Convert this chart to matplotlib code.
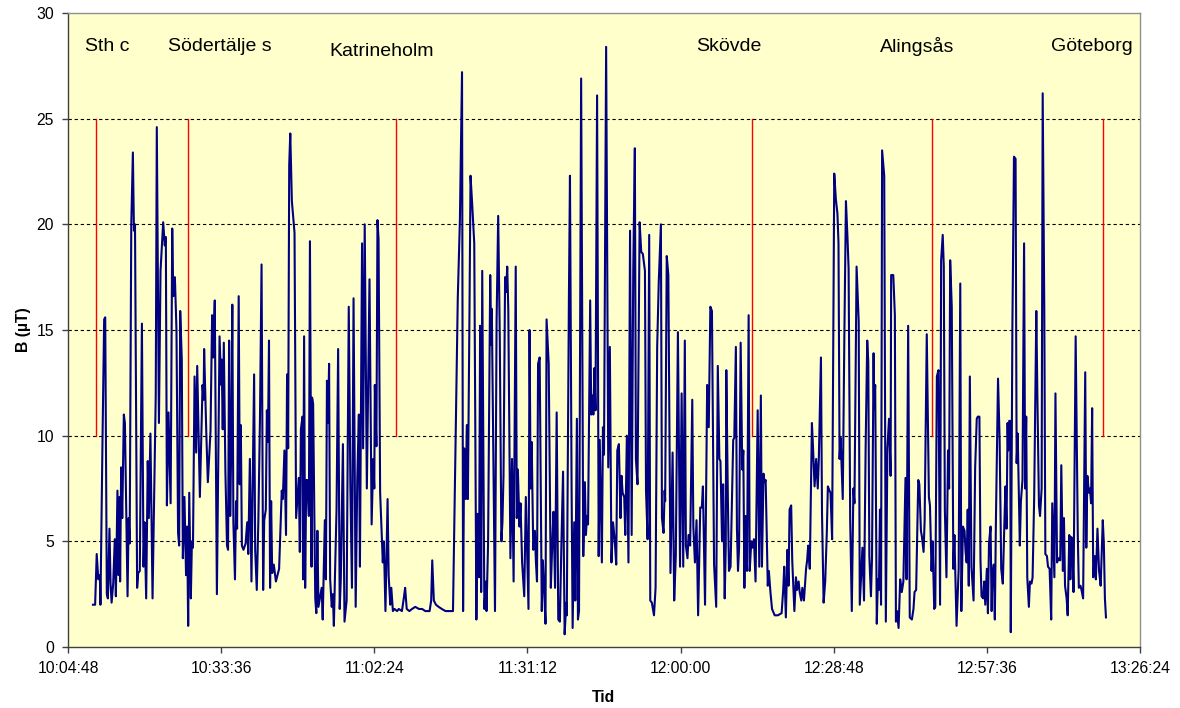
import numpy as np
import matplotlib
matplotlib.use("Agg")
import matplotlib.pyplot as plt
from datetime import datetime, timedelta
import matplotlib.dates as mdates

plt.rcParams['font.family'] = ['Liberation Sans', 'DejaVu Sans']

# ---- data: minutes after 10:04:48, magnetic field B in microtesla ----
START = "10:04:48"

tA = [4.7, 5.1, 5.4, 5.7, 6.0, 6.1, 6.5, 6.8, 7.0, 7.3, 7.5, 7.8, 8.0, 8.2, 8.5, 8.8, 9.0, 9.3, 9.5, 9.7,
      9.8, 10.0, 10.2, 10.5, 10.7, 11.2, 11.4, 11.6, 11.9, 12.2, 12.4, 12.6, 13.0, 13.2, 13.5, 13.9, 14.2, 14.4, 14.7, 15.0,
      15.2, 15.5, 15.9, 16.5, 16.7, 17.1, 17.4, 17.9, 18.2, 18.4, 18.6, 18.9, 19.3, 19.6, 19.8, 20.1, 20.4, 20.7, 20.9, 21.1,
      21.4, 21.6, 21.9, 22.2, 22.4, 22.6, 22.8, 23.1, 23.3, 23.5, 23.8, 24.1, 24.3, 24.8, 25.3, 25.5, 25.6, 26.0, 26.3, 26.8,
      27.1, 27.3, 27.6, 28.0]
bA = [2.0, 2.0, 4.4, 3.2, 3.4, 2.0, 10.0, 15.5, 15.6, 2.5, 2.3, 5.6, 3.0, 2.1, 3.0, 5.1, 2.4, 7.4, 3.4, 7.1,
      3.1, 8.5, 6.1, 11.0, 10.6, 2.4, 6.1, 4.9, 20.0, 23.4, 19.7, 20.0, 2.8, 3.5, 3.6, 15.3, 3.8, 5.9, 2.3, 8.8,
      6.1, 10.1, 2.3, 11.9, 24.6, 10.6, 17.8, 20.1, 19.0, 19.4, 6.7, 11.1, 6.8, 19.8, 16.6, 17.5, 15.0, 5.4, 4.8, 15.9,
      13.6, 4.2, 7.1, 3.4, 5.7, 1.0, 7.3, 2.3, 5.0, 4.7, 12.8, 9.2, 13.3, 7.1, 12.4, 11.7, 14.1, 10.2, 7.8, 10.2,
      15.7, 13.7, 16.4, 2.5]

tB = [28.5, 28.8, 28.9, 29.1, 29.3, 29.6, 29.9, 30.1, 30.3, 30.5, 30.7, 30.9, 31.1, 31.4, 31.6, 31.8, 32.1, 32.3, 32.5, 32.7,
      33.0, 33.4, 33.7, 33.9, 34.2, 34.5, 35.0, 35.2, 35.5, 35.8, 36.1, 36.4, 36.7, 36.9, 37.2, 37.4, 37.6, 37.8, 38.0, 38.2,
      38.4, 38.7, 39.1, 39.3, 39.7, 40.2, 40.4, 40.7, 41.0, 41.2, 41.4, 41.6, 41.8, 42.1, 42.6, 42.9, 43.4, 43.6, 43.8, 44.1,
      44.2, 44.4, 44.6, 44.8, 45.0, 45.3, 45.5, 45.8, 45.9, 46.1, 46.5, 46.7, 46.9, 47.1, 47.5, 47.7, 47.9, 48.3, 48.5, 48.7,
      48.9, 49.1, 49.3, 49.6, 49.8, 50.0, 50.2, 50.5, 50.8, 51.1, 51.3, 51.7]
bB = [14.7, 12.4, 13.6, 10.3, 14.4, 8.3, 4.8, 4.6, 14.5, 6.2, 9.5, 16.2, 5.9, 3.2, 6.9, 5.6, 16.6, 7.7, 10.5, 4.8,
      4.6, 4.9, 5.9, 4.4, 8.9, 3.1, 12.9, 4.6, 2.7, 6.0, 10.8, 18.1, 2.7, 6.0, 6.5, 11.2, 9.7, 14.5, 2.8, 6.9,
      3.5, 3.9, 3.1, 3.3, 3.7, 7.4, 7.0, 9.3, 5.3, 12.9, 9.4, 22.8, 24.3, 21.1, 19.6, 6.1, 8.0, 4.5, 10.3, 10.9,
      3.2, 14.7, 2.8, 7.9, 7.9, 6.2, 19.2, 3.8, 11.8, 11.5, 2.3, 1.6, 5.5, 1.9, 2.5, 2.8, 1.3, 6.0, 3.2, 12.6,
      10.6, 13.4, 3.2, 1.9, 2.5, 1.0, 3.3, 6.5, 14.1, 1.8, 3.2, 9.6]

tC = [52.0, 52.4, 52.8, 53.1, 53.4, 53.7, 54.1, 54.4, 54.7, 54.9, 55.3, 55.5, 55.8, 56.2, 56.7, 57.1, 57.4, 57.6, 57.7, 58.0,
      58.2, 58.4, 58.7, 59.2, 59.4, 59.7, 60.1, 60.3, 60.6, 60.8, 61.1, 61.4, 61.9, 62.2, 62.8, 63.2, 63.4, 63.7, 64.2, 64.7,
      65.3, 66.0, 66.6, 67.2, 68.0, 68.3, 68.5, 68.8, 69.2, 69.7, 70.3, 71.0, 71.6, 72.4, 73.3, 73.7, 74.1, 74.3, 74.5, 74.8,
      75.0, 75.2, 75.5, 75.7]
bC = [1.2, 2.2, 16.1, 7.7, 2.8, 16.5, 1.9, 7.9, 11.0, 3.8, 19.1, 9.4, 20.0, 7.5, 17.4, 5.8, 8.9, 7.5, 12.4, 9.5,
      20.2, 19.3, 7.3, 4.0, 5.0, 1.7, 7.0, 3.4, 2.0, 2.8, 1.7, 1.8, 1.7, 1.8, 1.7, 2.4, 2.8, 1.8, 1.7, 1.8,
      1.9, 1.8, 1.8, 1.7, 1.7, 2.2, 4.1, 2.2, 2.0, 1.9, 1.8, 1.7, 1.7, 1.7, 16.5, 20.2, 27.2, 1.7, 9.4, 7.0,
      10.5, 7.0, 15.8, 22.3]

tD = [76.0, 76.4, 76.8, 77.0, 77.3, 77.5, 77.7, 77.9, 78.3, 78.6, 78.7, 79.0, 79.4, 79.6, 79.7, 80.3, 80.6, 80.9, 81.2, 81.5,
      81.7, 81.9, 82.2, 82.4, 82.6, 82.8, 83.2, 83.5, 83.8, 84.2, 84.4, 84.6, 84.9, 85.1, 85.4, 85.8, 86.1, 86.6, 86.8, 87.0,
      87.2, 87.5, 87.8, 88.0, 88.2, 88.4, 88.7, 89.1, 89.3, 89.6, 89.8, 90.0, 90.4, 90.8, 91.1, 91.3, 91.6, 91.9, 92.2, 92.5,
      92.8, 93.1, 93.4, 93.7, 93.8, 94.2, 94.4, 94.7, 94.9, 95.2, 95.4, 95.7, 95.9, 96.1, 96.5, 96.9, 97.2, 97.4, 97.6, 97.8,
      98.0, 98.2, 98.4, 98.6, 98.8, 99.0, 99.2, 99.5, 99.8]
bD = [21.0, 19.1, 1.3, 6.3, 3.3, 15.2, 2.6, 17.8, 1.8, 3.1, 1.7, 4.9, 17.6, 14.3, 16.0, 1.7, 15.4, 20.4, 14.7, 5.0,
      5.9, 8.1, 17.5, 16.8, 18.0, 16.0, 4.2, 8.9, 3.1, 18.0, 6.1, 8.4, 5.7, 6.8, 4.0, 2.4, 7.1, 1.8, 15.0, 7.5,
      9.7, 4.6, 5.5, 4.0, 3.1, 13.4, 13.7, 1.7, 4.1, 2.4, 1.1, 15.5, 13.4, 2.8, 5.1, 6.4, 2.8, 11.1, 1.3, 1.2,
      5.0, 8.3, 0.6, 2.1, 1.5, 16.5, 22.3, 7.7, 0.9, 5.9, 2.2, 10.8, 1.3, 1.7, 26.9, 4.3, 7.8, 5.3, 6.2, 5.8,
      11.0, 16.4, 11.0, 11.9, 11.0, 13.2, 11.2, 26.1, 4.3]

tE = [100.0, 100.4, 100.6, 100.8, 101.2, 101.6, 101.9, 102.2, 102.5, 102.8, 103.1, 103.3, 103.6, 103.9, 104.1, 104.3, 104.6, 104.8, 105.1, 105.4,
      105.7, 106.0, 106.3, 106.6, 106.8, 107.1, 107.5, 107.8, 108.1, 108.5, 108.7, 109.0, 109.3, 109.5, 109.8, 110.2, 110.5, 110.8, 111.1, 111.5,
      111.7, 112.0, 112.2, 112.3, 112.6, 112.9, 113.3, 113.7, 114.0, 114.3, 114.7, 115.1, 115.4, 115.7, 116.0, 116.2, 116.5, 116.7, 117.0, 117.4,
      117.6, 117.9, 118.2, 118.5, 118.9, 119.2, 119.4, 119.8, 120.2, 120.5, 120.8, 121.1, 121.5, 121.9, 122.2, 122.5, 122.7, 123.0, 123.2, 123.5,
      123.7]
bE = [9.8, 4.0, 10.4, 9.1, 28.4, 8.5, 14.2, 4.0, 5.9, 5.1, 3.9, 9.3, 9.6, 6.1, 8.1, 7.3, 7.1, 5.3, 10.0, 4.0,
      19.7, 5.3, 17.8, 23.6, 8.9, 7.7, 20.1, 18.7, 18.6, 17.8, 7.4, 5.1, 19.5, 2.2, 2.1, 1.5, 2.8, 14.2, 17.3, 20.0,
      6.1, 5.4, 7.4, 6.9, 18.5, 17.6, 3.5, 9.2, 2.2, 4.3, 14.9, 3.8, 12.0, 3.8, 14.5, 4.8, 4.2, 5.3, 4.8, 11.7,
      5.7, 4.0, 6.0, 1.5, 6.6, 6.6, 7.6, 2.0, 12.4, 10.4, 16.1, 15.9, 3.9, 1.9, 13.3, 8.9, 8.8, 5.0, 7.7, 2.3,
      4.8]

tF = [123.8, 124.1, 124.3, 124.6, 125.1, 125.3, 125.6, 125.8, 126.0, 126.2, 126.5, 126.8, 127.0, 127.2, 127.4, 127.7, 128.0, 128.2, 128.5, 128.7,
      129.0, 129.3, 129.7, 130.0, 130.3, 130.5, 130.8, 131.0, 131.2, 131.6, 131.8, 132.1, 132.4, 132.9, 133.5, 134.2, 134.5, 134.7, 135.0, 135.3,
      135.5, 135.7, 136.0, 136.2, 136.6, 136.9, 137.1, 137.4, 137.6, 137.9, 138.1, 138.4, 138.8, 139.0, 139.2, 139.5, 139.9, 140.1, 140.4, 140.7,
      141.0, 141.2, 141.6, 141.8, 142.1, 142.4, 142.7, 142.9, 143.2, 143.4, 143.7, 144.1, 144.4, 144.7, 144.9, 145.1, 145.3, 145.7, 146.0, 146.3,
      146.6, 146.8, 147.1, 147.4]
bF = [13.1, 6.9, 3.6, 3.8, 9.8, 9.9, 14.2, 5.6, 3.6, 4.7, 14.4, 8.4, 9.3, 2.8, 6.2, 3.6, 15.7, 3.6, 5.0, 4.7,
      5.1, 3.1, 11.2, 3.8, 11.9, 3.8, 8.2, 7.8, 7.9, 2.9, 3.6, 2.6, 1.8, 1.5, 1.5, 1.6, 2.7, 3.8, 1.4, 4.6,
      2.9, 6.5, 6.7, 4.1, 1.7, 3.3, 2.7, 3.1, 2.6, 2.2, 2.8, 2.2, 3.7, 4.1, 4.8, 3.7, 10.6, 9.5, 7.6, 8.9,
      7.5, 8.9, 13.7, 6.3, 2.1, 3.1, 5.4, 7.6, 7.4, 7.3, 5.1, 22.4, 21.2, 20.5, 19.1, 8.9, 9.9, 7.0, 14.7, 21.1,
      19.3, 17.9, 6.0, 1.7]

tG = [147.7, 147.9, 148.3, 148.7, 148.9, 149.2, 149.4, 149.7, 150.0, 150.3, 150.5, 150.7, 151.0, 151.2, 151.5, 151.6, 151.8, 152.1, 152.3, 152.5,
      152.7, 152.9, 153.1, 153.5, 153.8, 154.1, 154.4, 154.7, 154.8, 155.2, 155.5, 155.7, 155.9, 156.2, 156.5, 156.8, 157.1, 157.5, 157.7, 158.0,
      158.3, 158.7, 159.0, 159.2, 159.5, 159.9, 160.1, 160.4, 160.6, 160.9, 161.1, 161.5, 161.9, 162.1, 162.4, 162.6, 162.9, 163.1, 163.4, 163.7,
      164.0, 164.2, 164.5, 164.7, 164.9, 165.2, 165.5, 165.7, 165.9, 166.2, 166.5, 166.7, 167.1, 167.5, 167.8, 168.0, 168.3, 168.6, 168.8, 169.0,
      169.2, 169.4, 169.6, 169.9, 170.3, 170.6, 170.9]
bG = [7.5, 6.8, 18.0, 15.4, 2.0, 3.6, 4.7, 2.2, 9.4, 14.5, 13.5, 4.3, 2.4, 4.2, 13.9, 11.3, 12.4, 1.1, 3.2, 2.7,
      6.5, 2.0, 23.5, 22.3, 1.2, 9.4, 10.8, 8.1, 17.6, 17.6, 15.7, 1.2, 1.7, 0.9, 3.2, 2.6, 3.1, 8.0, 3.2, 15.2,
      1.4, 1.3, 1.8, 2.6, 2.7, 7.9, 7.7, 5.5, 5.2, 4.5, 6.0, 14.8, 7.1, 6.7, 3.6, 5.0, 1.8, 1.9, 12.8, 13.1,
      2.0, 18.3, 19.5, 18.0, 6.5, 3.3, 9.3, 7.5, 18.3, 16.1, 3.7, 5.3, 1.0, 3.7, 17.2, 1.7, 5.7, 5.5, 4.5, 4.0,
      6.5, 2.9, 12.8, 3.8, 2.2, 8.5, 10.8]

tH = [171.1, 171.4, 171.6, 171.8, 172.1, 172.3, 172.5, 172.8, 173.0, 173.2, 173.5, 173.7, 173.8, 174.1, 174.3, 174.5, 174.9, 175.2, 175.5, 175.8,
      176.1, 176.3, 176.5, 176.7, 176.8, 177.0, 177.2, 177.3, 177.6, 177.9, 178.2, 178.4, 178.6, 178.9, 179.0, 179.2, 179.5, 179.8, 180.0, 180.2,
      180.4, 180.7, 180.9, 181.2, 181.4, 181.7, 182.1, 182.3, 182.6, 182.8, 183.1, 183.3, 183.6, 183.8, 184.1, 184.3, 184.6, 184.9, 185.1, 185.5,
      185.7, 186.0, 186.3, 186.6, 186.8, 187.1, 187.3, 187.5, 187.8, 188.0, 188.3, 188.5, 188.7, 188.9, 189.1, 189.5, 189.9, 190.1, 190.4, 190.6,
      190.9, 191.3, 191.5, 191.7, 192.0, 192.2, 192.4, 192.6, 192.8, 193.1, 193.3, 193.6, 193.9, 194.2, 194.6, 194.8, 195.0, 195.2]
bH = [10.9, 10.9, 4.1, 2.4, 2.3, 3.1, 2.0, 3.7, 1.6, 4.9, 5.7, 1.7, 3.1, 3.9, 1.3, 5.9, 12.7, 9.8, 3.7, 3.0,
      5.9, 7.6, 5.6, 10.6, 9.3, 10.7, 10.7, 0.7, 15.1, 23.2, 23.1, 8.7, 10.1, 6.1, 4.8, 6.9, 7.9, 19.1, 7.5, 10.9,
      3.3, 1.9, 3.1, 3.0, 3.3, 7.1, 15.9, 11.9, 6.7, 6.2, 7.5, 26.2, 16.0, 4.4, 4.3, 3.8, 3.7, 1.3, 6.8, 3.3,
      12.0, 4.0, 4.2, 4.1, 8.6, 3.6, 6.1, 2.9, 2.3, 1.5, 5.3, 3.2, 5.2, 4.5, 2.6, 14.7, 5.3, 2.8, 2.9, 2.7,
      2.3, 13.0, 4.7, 8.1, 7.3, 7.5, 6.8, 11.3, 3.3, 4.3, 3.2, 5.6, 3.6, 2.9, 6.0, 4.9, 2.3, 1.4]

# station marks (red lines from 10 to 25 µT) and station names
station_names = ["Sth c", "Södertälje s", "Katrineholm", "Skövde", "Alingsås", "Göteborg"]
station_times = ["10:10:04", "10:27:22", "11:06:29", "12:13:26", "12:47:17", "13:19:26"]
label_times = ["10:12:06", "10:33:24", "11:03:42", "12:09:00", "12:44:30", "13:17:24"]
label_levels = [28.4, 28.4, 28.2, 28.4, 28.4, 28.4]
marker_low, marker_high = 10, 25

x_tick_labels = ["10:04:48", "10:33:36", "11:02:24", "11:31:12", "12:00:00", "12:28:48", "12:57:36", "13:26:24"]
y_ticks = [0, 5, 10, 15, 20, 25, 30]

# ---- build ----
def clock(s):
    return datetime.strptime("2000-01-01 " + s, "%Y-%m-%d %H:%M:%S")

t0 = clock(START)
t_all = np.concatenate([tA, tB, tC, tD, tE, tF, tG, tH])
b_all = np.concatenate([bA, bB, bC, bD, bE, bF, bG, bH])
times = [t0 + timedelta(minutes=float(m)) for m in t_all]

fig = plt.figure(figsize=(11.8, 7.08), dpi=100)
ax = fig.add_axes([68 / 1180, 1 - 647 / 708, (1140 - 68) / 1180, (647 - 13) / 708])
ax.set_facecolor('#FFFFCC')

for y in y_ticks[1:-1]:
    ax.axhline(y, color='black', lw=0.8, linestyle=(0, (3, 2.5)), zorder=1)

for st in station_times:
    ax.plot([clock(st), clock(st)], [marker_low, marker_high], color='red', lw=1.0, zorder=2)

ax.plot(times, b_all, color='#000080', lw=1.5, zorder=3)

for name, lt, lv in zip(station_names, label_times, label_levels):
    ax.text(clock(lt), lv, name, ha='center', va='center', fontsize=14, color='black')

xticks = [clock(s) for s in x_tick_labels]
ax.set_xlim(xticks[0], xticks[-1])
ax.set_xticks(xticks)
ax.set_xticklabels(x_tick_labels, fontsize=11.3)
ax.set_ylim(0, 30)
ax.set_yticks(y_ticks)
ax.set_yticklabels([str(v) for v in y_ticks], fontsize=11.3)

ax.tick_params(axis='both', direction='out', length=4, width=1, color='#404040', pad=6)

for side in ['left', 'bottom']:
    ax.spines[side].set_color('#404040')
    ax.spines[side].set_linewidth(1.0)
for side in ['top', 'right']:
    ax.spines[side].set_color('#909090')
    ax.spines[side].set_linewidth(1.0)

ax.set_xlabel("Tid", fontsize=11.3, fontweight='bold', labelpad=10)
ax.set_ylabel("B (µT)", fontsize=11.3, fontweight='bold', labelpad=4)

fig.savefig("out.png", dpi=100, facecolor='white')
